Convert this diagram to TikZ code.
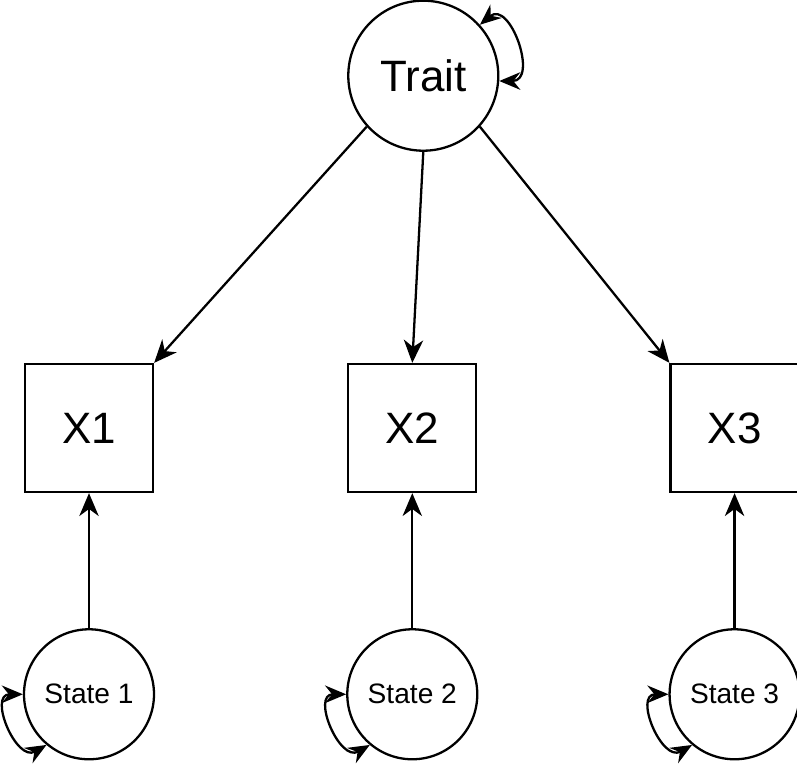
\documentclass[tikz,border=0pt]{standalone}
\usepackage{fontspec}
\setmainfont{Liberation Sans}
\usepackage{tikz}
\usetikzlibrary{arrows.meta,positioning}

\begin{document}
\begin{tikzpicture}[
    latent/.style={circle, draw=black, fill=white, line width=1.3pt, inner sep=0pt},
    manifest/.style={rectangle, draw=black, fill=white, line width=1.3pt, minimum size=2.56cm, inner sep=0pt, font=\fontsize{25}{30}\selectfont},
    arrow/.style={-{Stealth[length=13pt, width=11pt, inset=4pt]}, line width=1.3pt, draw=black},
    varloop/.style={{Stealth[length=12pt, width=10pt, inset=4pt]}-{Stealth[length=12pt, width=10pt, inset=4pt]}, line width=1.3pt, draw=black}
]

\useasboundingbox (0,0) rectangle (15.94,-15.28);

\node[manifest] (x1) at (1.78,-8.56) {X1};
\node[manifest, right=3.86cm of x1] (x2) {X2};
\node[manifest, right=3.84cm of x2] (x3) {X3};

\node[latent, minimum size=3.0cm, above=4.22cm of x2, xshift=0.22cm, font=\fontsize{25}{30}\selectfont] (trait) {Trait};

\node[latent, minimum size=2.6cm, below=2.7cm of x1, font=\fontsize{16}{19}\selectfont] (state1) {State 1};
\node[latent, minimum size=2.6cm, below=2.7cm of x2, font=\fontsize{16}{19}\selectfont] (state2) {State 2};
\node[latent, minimum size=2.6cm, below=2.7cm of x3, font=\fontsize{16}{19}\selectfont] (state3) {State 3};

\draw[arrow] (trait.222) -- (x1.north east);
\draw[arrow] (trait.south) -- (x2.north);
\draw[arrow] (trait.318) -- (x3.north west);

\draw[arrow] (state1.north) -- (x1.south);
\draw[arrow] (state2.north) -- (x2.south);
\draw[arrow] (state3.north) -- (x3.south);

\draw[varloop] (trait.42) to[out=40, in=0, looseness=1.7] (trait.-4);
\draw[varloop] (state1.180) to[out=180, in=210, looseness=1.6] (state1.230);
\draw[varloop] (state2.180) to[out=180, in=210, looseness=1.6] (state2.230);
\draw[varloop] (state3.180) to[out=180, in=210, looseness=1.6] (state3.230);

\end{tikzpicture}
\end{document}
